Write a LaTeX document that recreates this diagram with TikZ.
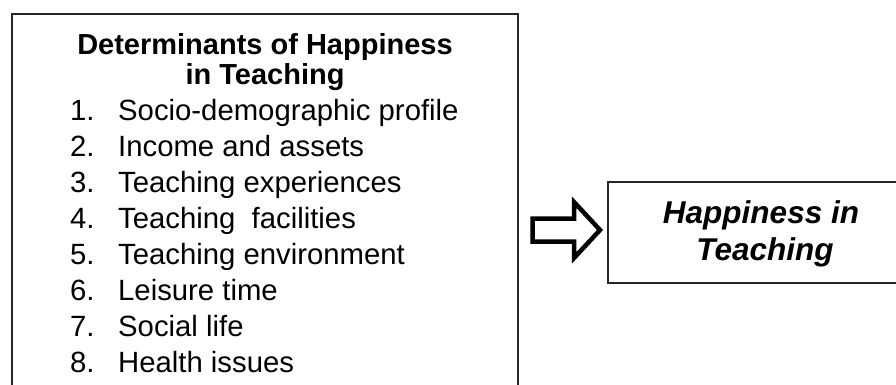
\documentclass[tikz,border=0pt]{standalone}
\usepackage{fontspec}
\setmainfont{Liberation Sans}
\begin{document}
\begin{tikzpicture}[x=1pt,y=-1pt,
  boxline/.style={line width=2pt, draw=black!85},
  title/.style={anchor=base, inner sep=0pt, font=\fontsize{29}{34}\selectfont\bfseries},
  numtxt/.style={anchor=base west, inner sep=0pt, font=\fontsize{29.3}{34}\selectfont},
  itemtxt/.style={anchor=base west, inner sep=0pt, font=\fontsize{29.3}{34}\selectfont},
  outtxt/.style={anchor=base, inner sep=0pt, font=\fontsize{31.5}{36}\selectfont\bfseries\itshape},
  blockarrow/.style={line width=4.5pt, draw=black, miter limit=10}]
\useasboundingbox (0,0) rectangle (896,385);
% left box (open at the bottom)
\coordinate (lbBL) at (12,392);
\coordinate (lbTL) at (12,14);
\coordinate (lbTR) at (518,14);
\coordinate (lbBR) at (518,392);
\draw[boxline] (lbBL) -- (lbTL) -- (lbTR) -- (lbBR);
\node[title] (t1) at (265,55) {Determinants of Happiness};
\node[title] (t2) at (265,85) {in Teaching};
\foreach \n/\t [count=\i from 0] in {1/Socio-demographic profile,2/Income and assets,3/Teaching experiences,4/Teaching\ \ facilities,5/Teaching environment,6/Leisure time,7/Social life,8/Health issues}{
  \node[numtxt] (n\n) at (70,{121+35.9*\i}) {\n.};
  \node[itemtxt] (i\n) at (118,{121+35.9*\i}) {\t};
}
% block arrow
\coordinate (arr) at (532.5,230);
\draw[blockarrow] (arr) ++(0,-11.5) -- ++(41.5,0) -- ++(0,-16.5) -- (600,230)
  -- (574,258) -- ++(0,-16.5) -- ++(-41.5,0) -- cycle;
% right box (open at the right)
\coordinate (rbTR) at (920,182);
\coordinate (rbTL) at (608,182);
\coordinate (rbBL) at (608,283);
\coordinate (rbBR) at (920,283);
\draw[boxline] (rbTR) -- (rbTL) -- (rbBL) -- (rbBR);
\node[outtxt] (h1) at (761,223) {Happiness in};
\node[outtxt] (h2) at (765,260) {Teaching};
\end{tikzpicture}
\end{document}
